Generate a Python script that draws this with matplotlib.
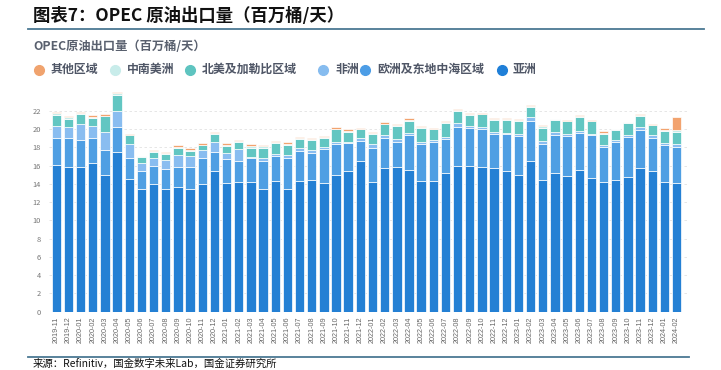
import numpy as np
import matplotlib
matplotlib.use("Agg")
from matplotlib import pyplot as plt
from matplotlib.lines import Line2D

plt.rcParams['font.family'] = ['Noto Sans CJK SC', 'DejaVu Sans']

months = ["2019-11", "2019-12", "2020-01", "2020-02", "2020-03", "2020-04", "2020-05", "2020-06",
          "2020-07", "2020-08", "2020-09", "2020-10", "2020-11", "2020-12", "2021-01", "2021-02",
          "2021-03", "2021-04", "2021-05", "2021-06", "2021-07", "2021-08", "2021-09", "2021-10",
          "2021-11", "2021-12", "2022-01", "2022-02", "2022-03", "2022-04", "2022-05", "2022-06",
          "2022-07", "2022-08", "2022-09", "2022-10", "2022-11", "2022-12", "2023-01", "2023-02",
          "2023-03", "2023-04", "2023-05", "2023-06", "2023-07", "2023-08", "2023-09", "2023-10",
          "2023-11", "2023-12", "2024-01", "2024-02"]

# million barrels per day, by destination region
asia = [16.10, 15.85, 15.85, 16.33, 15.00, 17.50, 14.50, 13.45, 13.94, 13.45, 13.70, 13.43, 13.94,
        15.35, 14.10, 14.20, 14.23, 13.43, 14.30, 13.43, 14.30, 14.42, 14.05, 14.96, 15.40, 16.50,
        14.23, 15.69, 15.87, 15.51, 14.30, 14.30, 15.22, 15.95, 15.90, 15.80, 15.69, 15.43, 14.96,
        16.50, 14.38, 15.22, 14.85, 15.48, 14.67, 14.20, 14.45, 14.74, 15.73, 15.37, 14.20, 14.12]
europe = [2.90, 3.15, 2.90, 2.67, 2.72, 2.77, 2.36, 1.95, 2.01, 2.20, 2.12, 2.39, 2.90, 2.15, 2.67,
          2.28, 2.56, 3.10, 2.78, 3.43, 3.32, 2.98, 3.72, 3.40, 3.03, 2.22, 3.65, 3.29, 2.74, 3.83,
          4.02, 4.31, 3.68, 4.30, 4.20, 4.20, 3.76, 3.99, 4.27, 4.41, 4.01, 4.16, 4.38, 4.11, 4.64,
          3.83, 4.13, 4.38, 4.19, 3.68, 4.01, 3.91]
africa = [1.35, 1.22, 1.85, 1.38, 2.00, 1.68, 1.46, 0.84, 0.91, 0.95, 1.30, 1.24, 0.84, 1.06, 0.58,
          1.32, 0.16, 0.29, 0.18, 0.29, 0.33, 0.30, 0.22, 0.25, 0.18, 0.26, 0.48, 0.36, 0.26, 0.25,
          0.29, 0.18, 0.26, 0.37, 0.25, 0.18, 0.18, 0.18, 0.19, 0.37, 0.29, 0.29, 0.26, 0.15, 0.11,
          0.18, 0.18, 0.26, 0.30, 0.26, 0.26, 0.36]
north_am = [1.20, 0.93, 1.00, 0.80, 1.65, 1.80, 0.98, 0.66, 0.64, 0.63, 0.81, 0.54, 0.52, 0.86,
            0.83, 0.79, 0.95, 1.15, 1.17, 1.10, 0.92, 1.09, 0.99, 1.35, 1.09, 1.02, 1.09, 1.17,
            1.46, 1.32, 1.53, 1.21, 1.46, 1.35, 1.20, 1.42, 1.35, 1.38, 1.45, 1.16, 1.46, 1.28,
            1.35, 1.57, 1.42, 1.28, 1.16, 1.31, 1.20, 1.09, 1.27, 1.28]
latin_am = [0.15, 0.15, 0.10, 0.17, 0.10, 0.15, 0.08, 0.10, 0.10, 0.10, 0.12, 0.10, 0.10, 0.13,
            0.12, 0.11, 0.20, 0.13, 0.12, 0.13, 0.10, 0.11, 0.10, 0.09, 0.10, 0.05, 0.07, 0.09,
            0.07, 0.11, 0.10, 0.05, 0.13, 0.11, 0.10, 0.08, 0.10, 0.14, 0.13, 0.11, 0.16, 0.10,
            0.09, 0.09, 0.06, 0.11, 0.06, 0.03, 0.11, 0.08, 0.11, 0.18]
other = [0.17, 0.15, 0.12, 0.15, 0.13, 0.15, 0.04, 0.07, 0.12, 0.12, 0.15, 0.18, 0.18, 0.13, 0.15,
         0.13, 0.24, 0.15, 0.17, 0.16, 0.12, 0.15, 0.15, 0.13, 0.20, 0.09, 0.11, 0.13, 0.11, 0.15,
         0.12, 0.05, 0.12, 0.11, 0.10, 0.04, 0.12, 0.12, 0.13, 0.11, 0.10, 0.08, 0.09, 0.09, 0.05,
         0.14, 0.05, 0.04, 0.11, 0.10, 0.29, 1.46]

series = [("亚洲", asia, "#2480d4"),
          ("欧洲及东地中海区域", europe, "#4f9fe3"),
          ("非洲", africa, "#89bdf0"),
          ("北美及加勒比区域", north_am, "#62c6c2"),
          ("中南美洲", latin_am, "#c6ecea"),
          ("其他区域", other, "#f2a36f")]

W, H = 721, 370
fig = plt.figure(figsize=(W / 100, H / 100), dpi=100)

def fx(px):
    return px / W

def fy(py):
    return 1 - py / H

# plot area
ax = fig.add_axes([fx(49), fy(311.7), fx(638), (311.7 - 87.9) / H])
x = np.arange(len(months))
bottom = np.zeros(len(months))
for name, vals, color in series:
    ax.bar(x, vals, width=0.77, bottom=bottom, color=color, edgecolor="white", linewidth=0.5)
    bottom += np.array(vals)

ax.set_xlim(-0.6, 51.86)
ax.set_ylim(0, 24.5)
ax.set_yticks(np.arange(0, 23, 2))
ax.set_xticks(x)
ax.set_xticklabels(months, rotation=90, fontsize=5.2, color="#666666", family="Liberation Sans")
ax.tick_params(axis="y", length=0, pad=6, labelsize=5.4, labelcolor="#777777")
ax.tick_params(axis="x", length=0, pad=3.5)
for s in ax.spines.values():
    s.set_visible(False)
ax.yaxis.grid(True, linestyle=(0, (3, 3)), color="#e2e2e2", linewidth=0.6)
ax.set_axisbelow(True)

# title and rules
fig.text(fx(33), fy(16), "图表7：OPEC 原油出口量（百万桶/天）", fontsize=12.5, fontweight="bold",
         color="#111111", va="center", ha="left")
fig.add_artist(Line2D([fx(28), fx(704)], [fy(29), fy(29)], transform=fig.transFigure,
                      color="#4b7893", linewidth=1.3))
fig.add_artist(Line2D([fx(28), fx(689)], [fy(357), fy(357)], transform=fig.transFigure,
                      color="#4b7893", linewidth=1.3))
fig.text(fx(33), fy(359), "来源：Refinitiv，国金数字未来Lab，国金证券研究所", fontsize=7.5,
         color="#111111", va="top", ha="left")

# chart subtitle
fig.text(fx(33), fy(46), "OPEC原油出口量（百万桶/天）", fontsize=8.8, fontweight="bold",
         color="#59606e", va="center", ha="left")

# legend
legend_items = [("其他区域", "#f0a36e", 39, 51), ("中南美洲", "#c8ecea", 115, 127),
                ("北美及加勒比区域", "#5ec4c0", 190, 202), ("非洲", "#86bcef", 323, 335),
                ("欧洲及东地中海区域", "#4c9de6", 365, 377), ("亚洲", "#1f7fd8", 502, 513)]
for label, color, mx, tx in legend_items:
    fig.add_artist(Line2D([fx(mx)], [fy(69.5)], transform=fig.transFigure, marker="o",
                          markersize=7, color=color, linestyle="none"))
    fig.text(fx(tx), fy(69.5), label, fontsize=8.6, fontweight="bold", color="#4f5666",
             va="center", ha="left")

fig.savefig("out.png", dpi=100)
